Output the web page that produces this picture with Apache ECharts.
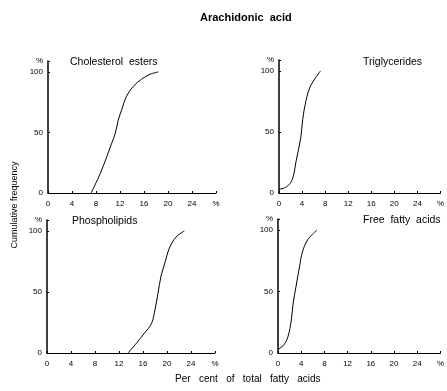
<!DOCTYPE html>
<html>
<head>
<meta charset="utf-8">
<script src="https://cdn.jsdelivr.net/npm/echarts@6/dist/echarts.min.js"></script>
<style>
  html, body { margin: 0; padding: 0; background: #fff; }
  #chart { width: 447px; height: 391px; }
</style>
</head>
<body>
<div id="chart"></div>
<script>
// cumulative frequency curves, [per cent of total fatty acids, cumulative %]
var cholesterolEsters = [[7.2, 0], [8.7, 16], [9.8, 30], [10.6, 41], [11.2, 49], [11.7, 60], [12.3, 69], [13.1, 80], [14.2, 88], [15.6, 94], [17.0, 98], [18.4, 100]];
var triglycerides = [[0, 3], [1.3, 5], [2.3, 11], [3.0, 27], [3.8, 46], [4.1, 60], [4.7, 76], [5.5, 88], [7.2, 100]];
var phospholipids = [[13.5, 0], [14.9, 8], [16.2, 16], [17.4, 24], [17.9, 33], [18.5, 49], [19.0, 63], [19.6, 73], [20.4, 86], [21.5, 95], [22.9, 100]];
var freeFattyAcids = [[0, 3], [0.9, 6], [1.7, 13], [2.3, 27], [2.6, 40], [3.1, 54], [3.7, 70], [4.2, 82], [5.1, 92], [6.7, 100]];

var panelNames = ['Cholesterol  esters', 'Triglycerides', 'Phospholipids', 'Free  fatty  acids'];
var xTicks = [0, 4, 8, 12, 16, 20, 24];
var yTicks = [0, 50, 100];

var FONT = 'Liberation Sans';
var chart = echarts.init(document.getElementById('chart'));

var grids = [
    { left: 48, top: 61, width: 168, height: 132 },
    { left: 279, top: 60, width: 168, height: 133 },
    { left: 47, top: 220, width: 168, height: 133 },
    { left: 278, top: 219, width: 168, height: 134 }
];
var allData = [cholesterolEsters, triglycerides, phospholipids, freeFattyAcids];

var xAxes = [], yAxes = [], series = [];
grids.forEach(function (g, i) {
    xAxes.push({
        type: 'value', gridIndex: i, min: 0, max: 28, interval: 4,
        axisLine: { lineStyle: { color: '#000', width: 1 } },
        axisTick: { inside: true, length: 2, lineStyle: { color: '#000' } },
        splitLine: { show: false },
        axisLabel: {
            margin: 7, color: '#000', fontFamily: FONT, fontSize: 8,
            formatter: function (v) { return v === 28 ? '%' : (xTicks.indexOf(v) >= 0 ? v : ''); }
        }
    });
    yAxes.push({
        type: 'value', gridIndex: i, min: 0, max: 109, interval: 50,
        name: '%', nameLocation: 'end', nameGap: 0,
        nameTextStyle: { color: '#000', fontFamily: FONT, fontSize: 8, align: 'right', verticalAlign: 'middle', padding: [0, 5, 0, 0] },
        axisLine: { lineStyle: { color: '#000', width: 1.5 } },
        axisTick: { inside: true, length: 2, lineStyle: { color: '#000' } },
        splitLine: { show: false },
        axisLabel: {
            margin: 5, color: '#000', fontFamily: FONT, fontSize: 8,
            formatter: function (v) { return yTicks.indexOf(v) >= 0 ? v : ''; }
        }
    });
    series.push({
        type: 'line', xAxisIndex: i, yAxisIndex: i,
        data: allData[i], smooth: 0.35, symbol: 'none',
        lineStyle: { color: '#000', width: 1 }
    });
});

var txt = { fill: '#000', fontFamily: FONT, fontSize: 10.5 };
chart.setOption({
    animation: false,
    backgroundColor: '#fff',
    grid: grids,
    xAxis: xAxes,
    yAxis: yAxes,
    series: series,
    graphic: [
        { type: 'text', left: 200, top: 12, style: Object.assign({}, txt, { text: 'Arachidonic  acid', fontWeight: 'bold', fontSize: 11 }) },
        { type: 'text', left: 70, top: 57, style: Object.assign({}, txt, { text: panelNames[0] }) },
        { type: 'text', left: 363, top: 57, style: Object.assign({}, txt, { text: panelNames[1] }) },
        { type: 'text', left: 72, top: 216, style: Object.assign({}, txt, { text: panelNames[2] }) },
        { type: 'text', left: 363, top: 215, style: Object.assign({}, txt, { text: panelNames[3] }) },
        { type: 'text', left: 175, top: 374, style: Object.assign({}, txt, { text: 'Per   cent   of   total   fatty   acids', fontSize: 10 }) },
        {
            type: 'text', x: 15, y: 205, rotation: Math.PI / 2,
            style: Object.assign({}, txt, { text: 'Cumulative frequency', fontSize: 9, align: 'center', verticalAlign: 'middle' })
        }
    ]
});
</script>
</body>
</html>
